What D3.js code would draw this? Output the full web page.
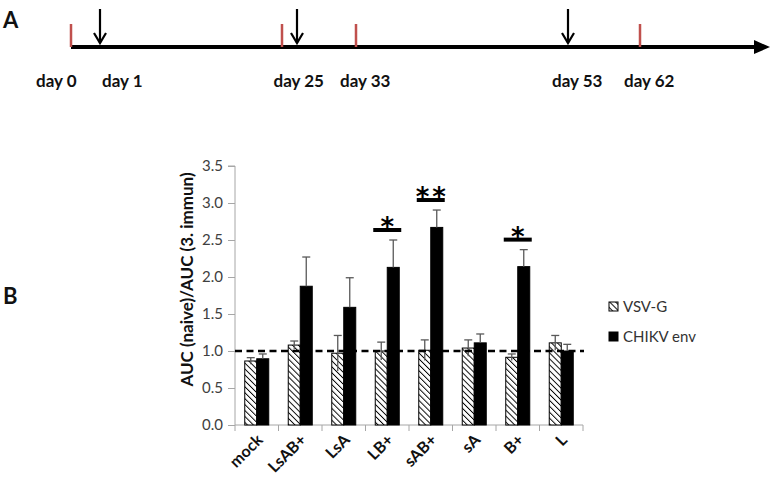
<!DOCTYPE html>
<html><head><meta charset="utf-8">
<script src="https://cdn.jsdelivr.net/npm/d3@7"></script>
<style>body{margin:0;background:#fff}svg{display:block}</style>
</head><body>
<svg id="c" width="770" height="481"></svg>
<script>
// ---------- data ----------
const timepointDays = [0, 25, 33, 62];       // red ticks (sampling)
const immunDays = [1, 25, 53];               // arrows (immunizations)
const dayLabels = [0, 1, 25, 33, 53, 62];

const categories = ["mock", "LsAB+", "LsA", "LB+", "sAB+", "sA", "B+", "L"];
const seriesNames = ["VSV-G", "CHIKV env"];
const vsvValues   = [0.865, 1.08, 0.97, 1.00, 1.01, 1.04, 0.915, 1.11];
const vsvErrors   = [0.045, 0.055, 0.24, 0.12, 0.14, 0.11, 0.045, 0.10];
const chikvValues = [0.895, 1.875, 1.59, 2.13, 2.67, 1.11, 2.14, 1.00];
const chikvErrors = [0.065, 0.395, 0.40, 0.37, 0.235, 0.12, 0.23, 0.09];
const sigCats   = ["LB+", "sAB+", "B+"];
const sigLabels = ["*", "**", "*"];
const yTicks = [0, 0.5, 1, 1.5, 2, 2.5, 3, 3.5];
const refLine = 1.0;

// ---------- layout ----------
const svg = d3.select("#c");
const FONT = "Lato, 'Open Sans', sans-serif";

// panel labels
svg.append("text").attr("x", 3).attr("y", 28).text("A")
  .attr("font-family", FONT).attr("font-weight", 700).attr("font-size", 22).attr("fill", "#111");
svg.append("text").attr("x", 3).attr("y", 304).text("B")
  .attr("font-family", FONT).attr("font-weight", 700).attr("font-size", 22).attr("fill", "#111");

// ---------- Panel A timeline (schematic, piecewise scale) ----------
const tl = d3.scaleLinear().domain([0, 1, 25, 33, 53, 62]).range([71, 100, 289.5, 356, 568, 640]);
const lineY = 47;
svg.append("line").attr("x1", tl(0)).attr("x2", 758).attr("y1", lineY).attr("y2", lineY)
  .attr("stroke", "#000").attr("stroke-width", 4);
svg.append("path").attr("d", `M770,${lineY} L754,${lineY-7} L754,${lineY+7} Z`).attr("fill", "#000");

const both = new Set(timepointDays.filter(d => immunDays.includes(d)));
const tickX = d => tl(d) - (both.has(d) ? 7.5 : 0);
const arrowX = d => tl(d) + (both.has(d) ? 7.5 : 0);

svg.selectAll(".rt").data(timepointDays).join("rect")
  .attr("x", d => tickX(d) - 1.25).attr("y", 24).attr("width", 2.5).attr("height", lineY - 24)
  .attr("fill", "#c0504d");

const ar = svg.selectAll(".ar").data(immunDays).join("g")
  .attr("transform", d => `translate(${arrowX(d)},0)`);
ar.append("line").attr("x1", 0).attr("x2", 0).attr("y1", 9).attr("y2", 43)
  .attr("stroke", "#000").attr("stroke-width", 2.2);
ar.append("path").attr("d", "M-6,33 L0,43 L6,33").attr("fill", "none")
  .attr("stroke", "#000").attr("stroke-width", 2.2);

const markX = d => immunDays.includes(d) && !timepointDays.includes(d) ? arrowX(d)
                 : (both.has(d) ? tl(d) : tickX(d));
const labelNudge = {0: -19, 1: 18};
svg.selectAll(".dl").data(dayLabels).join("text")
  .attr("x", d => markX(d) - 16 + (labelNudge[d] || 0)).attr("y", 87)
  .attr("font-family", FONT).attr("font-weight", 700).attr("font-size", 17).attr("fill", "#111")
  .text(d => "day " + d);

// ---------- Panel B bar chart ----------
const x0 = 235, x1 = 583, yBase = 425, yTop = 166;
const x = d3.scaleBand().domain(categories).range([x0, x1]).paddingInner(0).paddingOuter(0);
const y = d3.scaleLinear().domain([0, 3.5]).range([yBase, yTop]);
const barW = 12;

// hatch pattern
const defs = svg.append("defs");
const pat = defs.append("pattern").attr("id", "hatch").attr("patternUnits", "userSpaceOnUse")
  .attr("width", 4.2).attr("height", 4.2).attr("patternTransform", "rotate(-45)");
pat.append("rect").attr("width", 4.2).attr("height", 4.2).attr("fill", "#fff");
pat.append("line").attr("x1", 0).attr("y1", 0).attr("x2", 0).attr("y2", 4.2)
  .attr("stroke", "#000").attr("stroke-width", 1.9);

// axes
const yAxis = d3.axisLeft(y).tickValues(yTicks).tickFormat(d3.format(".1f")).tickSize(7).tickPadding(5);
const gy = svg.append("g").attr("transform", `translate(${x0},0)`).call(yAxis);
gy.select(".domain").attr("stroke", "#a6a6a6").attr("d", `M-7,${yTop}H0V${yBase}`);
gy.selectAll(".tick line").attr("stroke", "#a6a6a6");
gy.selectAll(".tick text").attr("font-family", FONT).attr("font-size", 15).attr("fill", "#404040");

const xAxis = d3.axisBottom(x).tickValues([]).tickSize(0);
const gx = svg.append("g").attr("transform", `translate(0,${yBase})`).call(xAxis);
gx.select(".domain").attr("stroke", "#a6a6a6").attr("d", `M${x0},0H${x1}`);
gx.selectAll(".bt").data(categories.concat(["_end"])).join("line")
  .attr("x1", (d, i) => x0 + i * x.bandwidth()).attr("x2", (d, i) => x0 + i * x.bandwidth())
  .attr("y1", 0).attr("y2", 6).attr("stroke", "#a6a6a6");

gx.selectAll(".cl").data(categories).join("text")
  .attr("transform", d => `translate(${x(d) + x.bandwidth() / 2 + 7},${16}) rotate(-45)`)
  .attr("text-anchor", "end").attr("font-family", FONT).attr("font-weight", 700)
  .attr("font-size", 16).attr("fill", "#111").text(d => d);

// bars
const cx = d => x(d) + x.bandwidth() / 2;
const vsvData = categories.map((c, i) => ({c, v: vsvValues[i], e: vsvErrors[i]}));
const chData = categories.map((c, i) => ({c, v: chikvValues[i], e: chikvErrors[i]}));

svg.selectAll(".bv").data(vsvData).join("rect")
  .attr("x", d => cx(d.c) - barW).attr("y", d => y(d.v)).attr("width", barW)
  .attr("height", d => yBase - y(d.v)).attr("fill", "url(#hatch)").attr("stroke", "#000").attr("stroke-width", 1);
svg.selectAll(".bc").data(chData).join("rect")
  .attr("x", d => cx(d.c)).attr("y", d => y(d.v)).attr("width", barW)
  .attr("height", d => yBase - y(d.v)).attr("fill", "#000").attr("stroke", "#000").attr("stroke-width", 1);

// error bars (upper cap; lower stem visible only inside hatched bars)
function errBars(data, off, showLower) {
  const g = svg.append("g");
  data.forEach(d => {
    const xm = cx(d.c) + off;
    g.append("line").attr("x1", xm).attr("x2", xm)
      .attr("y1", showLower ? y(d.v - d.e) : y(d.v)).attr("y2", y(d.v + d.e))
      .attr("stroke", "#595959").attr("stroke-width", 1.3);
    g.append("line").attr("x1", xm - 4).attr("x2", xm + 4)
      .attr("y1", y(d.v + d.e)).attr("y2", y(d.v + d.e)).attr("stroke", "#595959").attr("stroke-width", 1.3);
  });
}
errBars(vsvData, -barW / 2, true);
errBars(chData, barW / 2, false);

// reference line
svg.append("line").attr("x1", x0).attr("x2", x1 + 1).attr("y1", y(refLine)).attr("y2", y(refLine))
  .attr("stroke", "#000").attr("stroke-width", 2.6).attr("stroke-dasharray", "7,4.5");

// significance
sigCats.forEach((c, i) => {
  const k = categories.indexOf(c);
  const top = y(chikvValues[k] + chikvErrors[k]) - 10;
  const xm = cx(c);
  svg.append("line").attr("x1", xm - 14).attr("x2", xm + 14).attr("y1", top).attr("y2", top)
    .attr("stroke", "#000").attr("stroke-width", 4);
  const multi = sigLabels[i].length > 1;
  svg.append("text").attr("x", xm + (multi ? 1.5 : 0)).attr("y", top + 6).attr("text-anchor", "middle")
    .attr("font-family", "'DejaVu Sans', sans-serif").attr("font-weight", 700).attr("font-size", 26)
    .attr("letter-spacing", multi ? 3 : 0)
    .attr("fill", "#000").text(sigLabels[i]);
});

// y title
svg.append("text").attr("transform", `translate(193,${(yTop + yBase) / 2 - 16}) rotate(-90)`)
  .attr("text-anchor", "middle").attr("font-family", FONT).attr("font-weight", 700)
  .attr("font-size", 17).attr("fill", "#111").text("AUC (naive)/AUC (3. immun)");

// legend
const lg = svg.append("g").attr("transform", "translate(609,302)");
const fills = ["url(#hatch)", "#000"];
seriesNames.forEach((s, i) => {
  lg.append("rect").attr("x", 0).attr("y", i * 30).attr("width", 9).attr("height", 9)
    .attr("fill", fills[i]).attr("stroke", "#000").attr("stroke-width", 1);
  lg.append("text").attr("x", 14).attr("y", i * 30 + 10).attr("font-family", FONT)
    .attr("font-size", 15).attr("fill", "#333").text(s);
});
</script>
</body></html>
